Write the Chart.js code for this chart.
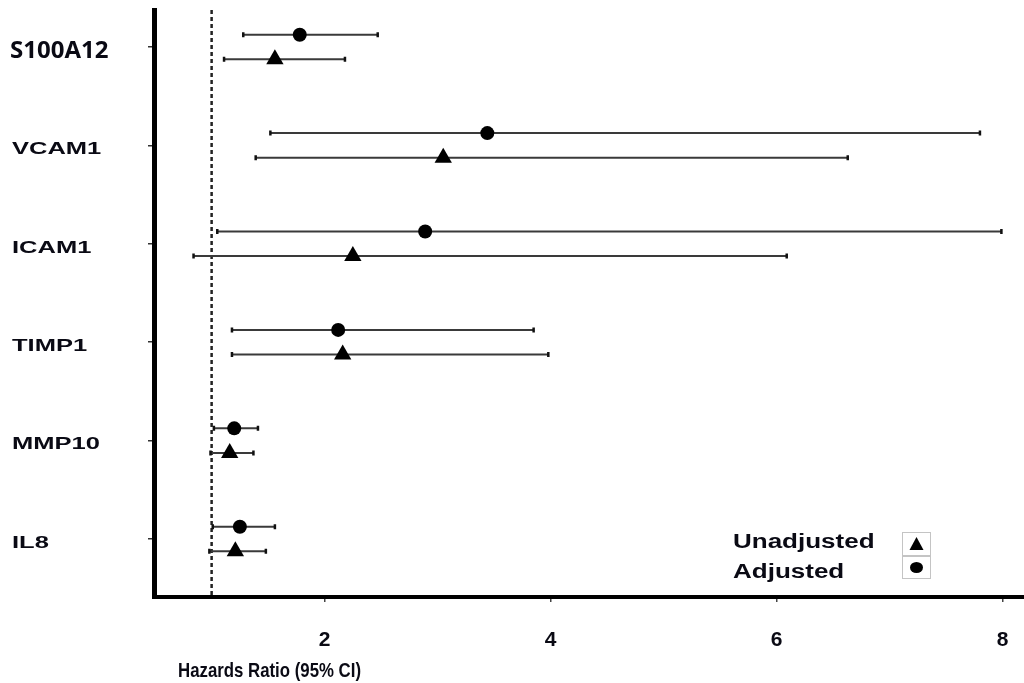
<!DOCTYPE html>
<html>
<head>
<meta charset="utf-8">
<script src="https://cdn.jsdelivr.net/npm/chart.js@4.4.1/dist/chart.umd.min.js"></script>
<style>
    html, body { margin: 0; padding: 0; background: #fff; overflow: hidden; }
</style>
</head>
<body>
<canvas id="forest" width="1034" height="683"></canvas>
<script>
// biomarkers, top to bottom
const markers = ["S100A12", "VCAM1", "ICAM1", "TIMP1", "MMP10", "IL8"];

// adjusted hazard ratios + 95% CI
const adjustedHR   = [1.78, 3.44, 2.89, 2.12, 1.20, 1.25];
const adjustedLow  = [1.28, 1.52, 1.05, 1.18, 1.02, 1.01];
const adjustedHigh = [2.47, 7.80, 7.99, 3.85, 1.41, 1.56];

// unadjusted hazard ratios + 95% CI
const unadjustedHR   = [1.56, 3.05, 2.25, 2.16, 1.16, 1.21];
const unadjustedLow  = [1.11, 1.39, 0.84, 1.18, 0.99, 0.98];
const unadjustedHigh = [2.18, 6.63, 6.09, 3.98, 1.37, 1.48];

const xTicks = [2, 4, 6, 8];
const refLine = 1;

const ROW_SHIFT = 0.125;   // adjusted sits above the row tick, unadjusted below
const FONT = '"Liberation Sans", Arial, sans-serif';

function rows(hr, lo, hi, shift) {
    return hr.map((v, i) => ({ x: v, y: i + shift, lo: lo[i], hi: hi[i] }));
}

/* ---------- dashed reference line + CI whiskers ---------- */
const whiskers = {
    id: "whiskers",
    beforeDatasetsDraw(chart) {
        const { ctx, chartArea, scales: { x, y } } = chart;
        ctx.save();

        // HR = 1 line
        const rx = x.getPixelForValue(refLine);
        ctx.strokeStyle = "#222";
        ctx.lineWidth = 2.5;
        ctx.setLineDash([4, 3]);
        ctx.beginPath();
        ctx.moveTo(rx, chartArea.top);
        ctx.lineTo(rx, chartArea.bottom);
        ctx.stroke();
        ctx.setLineDash([]);

        chart.data.datasets.forEach(ds => {
            ds.data.forEach(p => {
                const py = y.getPixelForValue(p.y);
                const x1 = x.getPixelForValue(p.lo);
                const x2 = x.getPixelForValue(p.hi);
                ctx.strokeStyle = "#3a3a3a";
                ctx.lineWidth = 2;
                ctx.beginPath();
                ctx.moveTo(x1, py);
                ctx.lineTo(x2, py);
                ctx.stroke();
                ctx.strokeStyle = "#111";
                ctx.lineWidth = 2.5;
                ctx.beginPath();
                ctx.moveTo(x1, py - 2.5); ctx.lineTo(x1, py + 2.5);
                ctx.moveTo(x2, py - 2.5); ctx.lineTo(x2, py + 2.5);
                ctx.stroke();
            });
        });
        ctx.restore();
    }
};

function stretchedText(ctx, text, px, py, font, sx) {
    ctx.save();
    ctx.font = font;
    ctx.translate(px, py);
    ctx.scale(sx, 1);
    ctx.fillText(text, 0, 0);
    ctx.restore();
}

/* ---------- row labels, axis title, legend ---------- */
const labels = {
    id: "labels",
    afterDraw(chart) {
        const { ctx, scales: { y } } = chart;
        ctx.save();
        ctx.fillStyle = "#0a0a14";
        ctx.textBaseline = "middle";
        ctx.textAlign = "left";

        markers.forEach((name, i) => {
            const py = y.getPixelForValue(i) + 4;
            if (i === 0) {
                stretchedText(ctx, name, 10, py, 'bold 24px "Open Sans", sans-serif', 1.0);
            } else {
                stretchedText(ctx, name, 12, py, "bold 17px " + FONT, 1.5);
            }
        });

        ctx.textBaseline = "alphabetic";
        stretchedText(ctx, "Hazards Ratio (95% CI)", 178, 677, "bold 21px " + FONT, 0.8);

        // legend
        stretchedText(ctx, "Unadjusted", 733, 548, "bold 20px " + FONT, 1.3);
        stretchedText(ctx, "Adjusted", 733, 578, "bold 20px " + FONT, 1.3);

        ctx.strokeStyle = "#c4c4c4";
        ctx.lineWidth = 1;
        ctx.strokeRect(902.5, 532.5, 28, 23);
        ctx.strokeRect(902.5, 556.5, 28, 22);

        ctx.fillStyle = "#000";
        ctx.beginPath();
        ctx.moveTo(916.5, 537);
        ctx.lineTo(923.5, 550);
        ctx.lineTo(909.5, 550);
        ctx.closePath();
        ctx.fill();
        ctx.beginPath();
        ctx.ellipse(916.5, 567.5, 6.5, 5.5, 0, 0, Math.PI * 2);
        ctx.fill();
        ctx.restore();
    }
};

new Chart(document.getElementById("forest"), {
    type: "scatter",
    data: {
        datasets: [
            {
                label: "Unadjusted",
                data: rows(unadjustedHR, unadjustedLow, unadjustedHigh, ROW_SHIFT),
                pointStyle: "triangle",
                pointRadius: 10,
                backgroundColor: "#000",
                borderColor: "#000",
                borderWidth: 0
            },
            {
                label: "Adjusted",
                data: rows(adjustedHR, adjustedLow, adjustedHigh, -ROW_SHIFT),
                pointStyle: "circle",
                pointRadius: 7,
                backgroundColor: "#000",
                borderColor: "#000",
                borderWidth: 0
            }
        ]
    },
    options: {
        responsive: false,
        animation: false,
        devicePixelRatio: 1,
        layout: { padding: { top: 10, right: 0, bottom: 0, left: 0 } },
        plugins: {
            legend: { display: false },
            tooltip: { enabled: false }
        },
        scales: {
            x: {
                type: "linear",
                min: 0.49,
                max: 8.19,
                afterBuildTicks: s => { s.ticks = xTicks.map(v => ({ value: v })); },
                afterFit: s => { s.height = 86; s.paddingLeft = 0; s.paddingRight = 0; },
                grid: { drawOnChartArea: false, drawTicks: true, tickLength: 5, color: "#444", lineWidth: 1.5 },
                border: { display: true, color: "#000", width: 4 },
                ticks: {
                    color: "#0a0a14",
                    padding: 26,
                    maxRotation: 0,
                    font: { family: FONT, weight: "bold", size: 21 }
                }
            },
            y: {
                type: "linear",
                reverse: true,
                min: -0.376,
                max: 5.589,
                afterBuildTicks: s => { s.ticks = markers.map((_, i) => ({ value: i })); },
                afterFit: s => { s.width = 154; },
                grid: { drawOnChartArea: false, drawTicks: true, tickLength: 6, color: "#333", lineWidth: 1.5 },
                border: { display: true, color: "#000", width: 5 },
                ticks: { display: false }
            }
        }
    },
    plugins: [whiskers, labels]
});
</script>
</body>
</html>
